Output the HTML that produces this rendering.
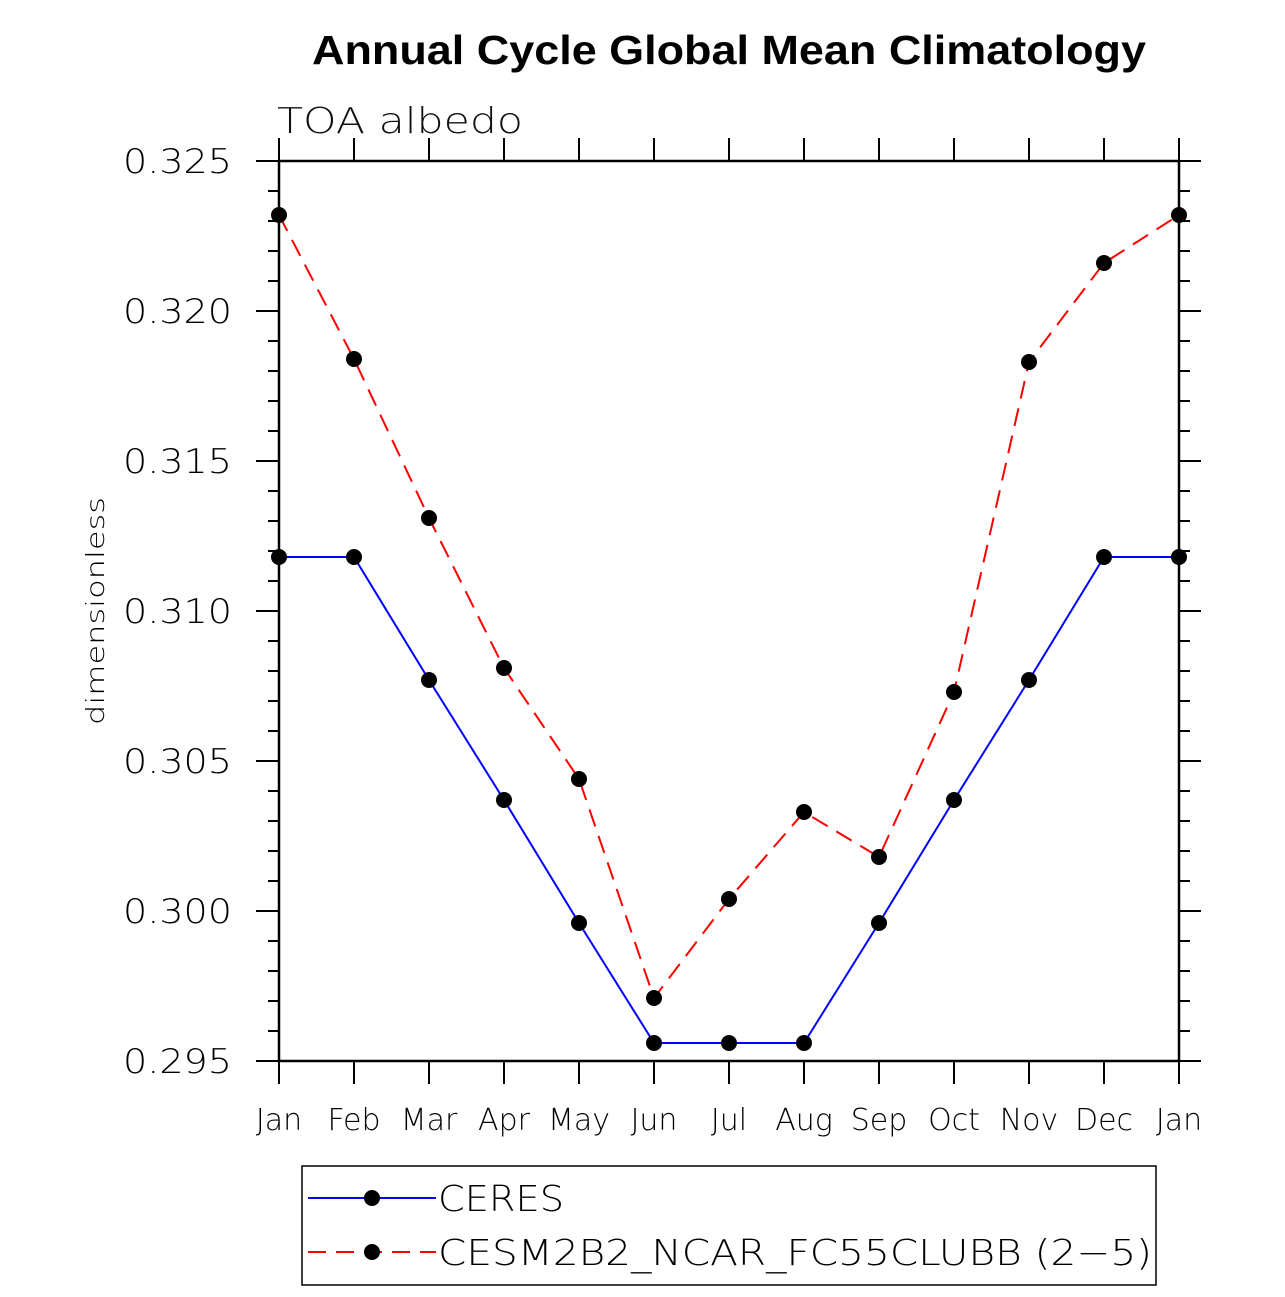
<!DOCTYPE html>
<html><head><meta charset="utf-8"><style>
body{margin:0;background:#fff;width:1285px;height:1292px;overflow:hidden}
text{font-family:"DejaVu Sans","Liberation Sans",sans-serif}
text.title{font-family:"Liberation Sans",sans-serif}
</style></head><body>
<svg id="chart" width="1285" height="1292" xmlns="http://www.w3.org/2000/svg">
<text class="title" x="729" y="64" text-anchor="middle" font-weight="bold" font-size="41" textLength="834" lengthAdjust="spacingAndGlyphs">Annual Cycle Global Mean Climatology</text>
<text x="277" y="133" font-size="36" font-weight="200" fill="#111" textLength="246" lengthAdjust="spacingAndGlyphs">TOA albedo</text>
<text transform="translate(104,611) rotate(-90)" text-anchor="middle" font-size="25" font-weight="200" textLength="228" lengthAdjust="spacingAndGlyphs">dimensionless</text>
<g id="axes"></g>
<g id="series"></g>
<g>
<rect x="302" y="1166" width="854" height="119" fill="none" stroke="#000" stroke-width="1.5"/>
<g>
<line x1="308" y1="1198" x2="436" y2="1198" stroke="#0000ff" stroke-width="2"/>
<circle cx="372" cy="1198" r="8" fill="#000"/>
<text x="438" y="1211" font-size="36" font-weight="200" textLength="126" lengthAdjust="spacingAndGlyphs">CERES</text></g>
<g>
<line x1="308" y1="1252" x2="436" y2="1252" stroke="#ff0000" stroke-width="2" stroke-dasharray="18,10"/>
<circle cx="372" cy="1252" r="8" fill="#000"/>
<text x="438" y="1265" font-size="36" font-weight="200" textLength="714" lengthAdjust="spacingAndGlyphs">CESM2B2_NCAR_FC55CLUBB (2−5)</text></g>
</g>
</svg>
<script>
const months=["Jan","Feb","Mar","Apr","May","Jun","Jul","Aug","Sep","Oct","Nov","Dec","Jan"];
const ceres=[0.3118,0.3118,0.3077,0.3037,0.2996,0.2956,0.2956,0.2956,0.2996,0.3037,0.3077,0.3118,0.3118];
const model=[0.3232,0.3184,0.3131,0.3081,0.3044,0.2971,0.3004,0.3033,0.3018,0.3073,0.3183,0.3216,0.3232];
const yTicks=["0.295","0.300","0.305","0.310","0.315","0.320","0.325"];
const NS="http://www.w3.org/2000/svg";
const L=279,R=1179,T=161,B=1061,yMin=0.295,yMax=0.325;
const xs=i=>L+(R-L)*i/(months.length-1);
const ys=v=>B-(v-yMin)/(yMax-yMin)*(B-T);
function mk(tag,attrs,parent){const e=document.createElementNS(NS,tag);for(const k in attrs)e.setAttribute(k,attrs[k]);parent.appendChild(e);return e;}
const ax=document.getElementById('axes');
const frame=mk('rect',{x:L,y:T,width:R-L,height:B-T,fill:'none',stroke:'#000','stroke-width':2.5},ax);


months.forEach((m,i)=>{const x=xs(i);
mk('line',{x1:x,y1:T,x2:x,y2:T-23,stroke:'#000','stroke-width':2},ax);
mk('line',{x1:x,y1:B,x2:x,y2:B+23,stroke:'#000','stroke-width':2},ax);
const t=mk('text',{x:x,y:1130,'text-anchor':'middle','font-size':30,'font-weight':200},ax);t.textContent=m;

});
for(let k=0;k<=30;k++){const v=yMin+k*0.001,y=ys(v),maj=k%5==0;
mk('line',{x1:L,y1:y,x2:L-(maj?23:11),y2:y,stroke:'#000','stroke-width':2},ax);
mk('line',{x1:R,y1:y,x2:R+(maj?22:11),y2:y,stroke:'#000','stroke-width':2},ax);}
yTicks.forEach(s=>{const y=ys(parseFloat(s));const t=mk('text',{x:232,y:y+12,'text-anchor':'end','font-size':34,'font-weight':200,textLength:109,lengthAdjust:'spacingAndGlyphs'},ax);t.textContent=s;

});
const sg=document.getElementById('series');
function draw(vals,color,dash,name){
const g=mk('g',{},sg);


mk('polyline',{points:vals.map((v,i)=>xs(i)+','+ys(v)).join(' '),fill:'none',stroke:color,'stroke-width':2,'stroke-dasharray':dash},g);
vals.forEach((v,i)=>{const c=mk('circle',{cx:xs(i),cy:ys(v),r:8,fill:'#000'},g);

});}
draw(ceres,'#0000ff','none','ceres-series');
draw(model,'#ff0000','18,10','model-series');
</script>
</body></html>
